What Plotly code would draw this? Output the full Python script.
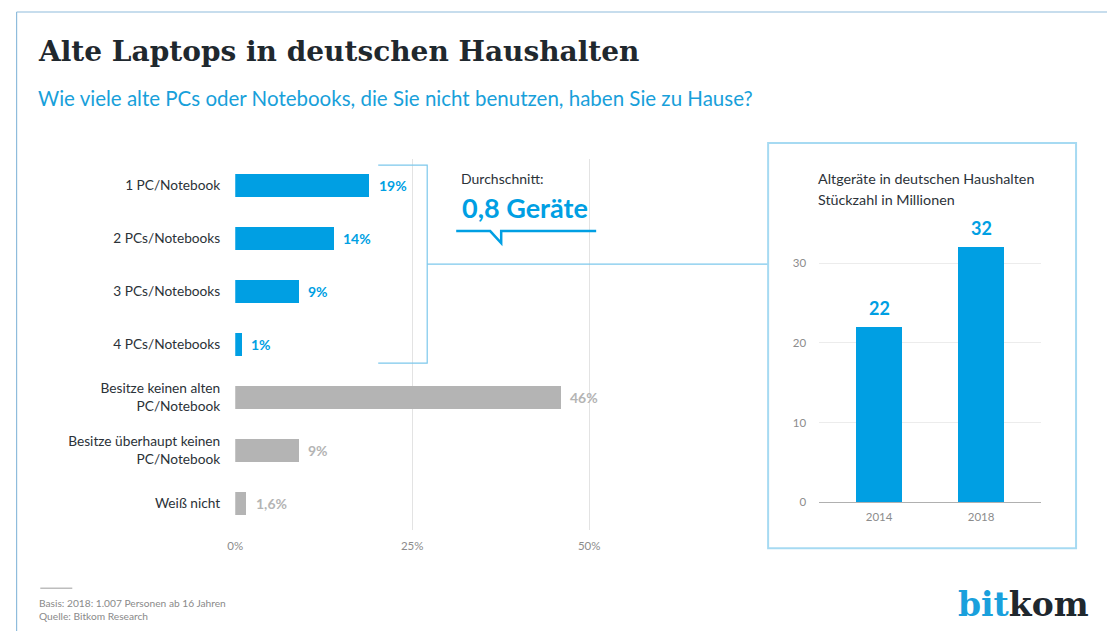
import plotly.graph_objects as go

# ---- data ----
categories = ["1 PC/Notebook", "2 PCs/Notebooks", "3 PCs/Notebooks", "4 PCs/Notebooks",
              "Besitze keinen alten<br>PC/Notebook", "Besitze überhaupt keinen<br>PC/Notebook", "Weiß nicht"]
shares = [19, 14, 9, 1, 46, 9, 1.6]
share_labels = ["19%", "14%", "9%", "1%", "46%", "9%", "1,6%"]
share_groups = ["blue", "blue", "blue", "blue", "grey", "grey", "grey"]
x_ticks = [0, 25, 50]
x_tick_labels = ["0%", "25%", "50%"]

years = ["2014", "2018"]
devices_mio = [22, 32]
y2_ticks = [0, 10, 20, 30]

BLUE = "#009fe3"
GREY = "#b4b4b4"
DARK = "#2b3238"
TICK = "#8c8c8c"
LINE = "#7cc8ec"
FONT = "Lato"

# page placement compensation (screen px -> figure px)
W, H = 1107, 629
SX, CX = 0.993, 15.7
SY, CY = 0.99, 8.0
def fxp(x): return (x - CX) / SX
def fyp(y): return (y - CY) / SY
def px(x): return max(fxp(x), 0.6) / W
def py(y): return 1 - fyp(y) / H

fig = go.Figure()

bar_colors = [BLUE if g == "blue" else GREY for g in share_groups]
fig.add_trace(go.Bar(x=shares, y=categories, orientation="h", marker_color=bar_colors,
                     marker_line_width=0, width=0.44, xaxis="x", yaxis="y",
                     hoverinfo="skip"))
fig.add_trace(go.Bar(x=years, y=devices_mio, marker_color=BLUE, marker_line_width=0,
                     width=0.45, xaxis="x2", yaxis="y2", hoverinfo="skip"))

annotations = []
for c, v, lab, g in zip(categories, shares, share_labels, share_groups):
    annotations.append(dict(x=v, y=c, xref="x", yref="y", text=lab, showarrow=False,
                            xanchor="left", xshift=7,
                            font=dict(family=FONT, size=14, weight="bold",
                                      color=BLUE if g == "blue" else GREY)))
for i, v in enumerate(devices_mio):
    annotations.append(dict(x=i, y=v, xref="x2", yref="y2", text=str(v), showarrow=False,
                            yanchor="bottom", yshift=6,
                            font=dict(family=FONT, size=18, weight="bold", color=BLUE)))

def txt(x, y, text, size, color, weight="normal", family=FONT, xanchor="left"):
    annotations.append(dict(x=px(x), y=py(y), xref="paper", yref="paper", text=text,
                            showarrow=False, xanchor=xanchor, yanchor="middle",
                            font=dict(family=family, size=size, color=color, weight=weight)))

txt(36, 51, "Alte Laptops in deutschen Haushalten", 28, "#1f282e", "bold", "DejaVu Serif")
txt(36, 98, "Wie viele alte PCs oder Notebooks, die Sie nicht benutzen, haben Sie zu Hause?", 20.5, "#18a0da")
txt(459, 178, "Durchschnitt:", 14, DARK)
txt(460, 207, "0,8 Geräte", 27, BLUE, "bold")
txt(816, 178, "Altgeräte in deutschen Haushalten", 14.3, DARK)
txt(816, 199, "Stückzahl in Millionen", 14.3, DARK)
txt(37, 603, "Basis: 2018: 1.007 Personen ab 16 Jahren", 10.2, "#8a8a8a")
txt(37, 616, "Quelle: Bitkom Research", 10.2, "#8a8a8a")
txt(956, 604, "<span style='color:#1aa0dc'>bit</span>kom", 33, "#1f282e", "bold", "DejaVu Serif")

shapes = [
    # outer frame
    dict(type="line", xref="paper", yref="paper", x0=px(9), x1=1, y0=py(12), y1=py(12),
         line=dict(color="#8fbcdc", width=1.2)),
    dict(type="line", xref="paper", yref="paper", x0=px(9), x1=px(9), y0=py(12), y1=0,
         line=dict(color="#8fbcdc", width=1.2)),
    # bracket + connector
    dict(type="path", xref="paper", yref="paper",
         path=f"M{px(378)},{py(165)} L{px(427)},{py(165)} L{px(427)},{py(363)} L{px(378)},{py(363)}",
         line=dict(color=LINE, width=1.2)),
    dict(type="line", xref="paper", yref="paper", x0=px(427), x1=px(768), y0=py(264), y1=py(264),
         line=dict(color=LINE, width=1.2)),
    # speech underline
    dict(type="path", xref="paper", yref="paper",
         path=f"M{px(456)},{py(231)} L{px(490)},{py(231)} L{px(501)},{py(243)} L{px(501)},{py(231)} L{px(596)},{py(231)}",
         line=dict(color=BLUE, width=2.5)),
    # right box
    dict(type="rect", xref="paper", yref="paper", x0=px(768), x1=px(1076), y0=py(548), y1=py(143),
         line=dict(color="#a6daf2", width=2)),
    # footnote rule
    dict(type="line", xref="paper", yref="paper", x0=px(40), x1=px(72), y0=py(588), y1=py(588),
         line=dict(color="#bdbdbd", width=1.5)),
]

fig.update_layout(
    width=W, height=H, margin=dict(l=0, r=0, t=0, b=0),
    paper_bgcolor="white", plot_bgcolor="rgba(0,0,0,0)",
    showlegend=False, bargap=0, annotations=annotations, shapes=shapes,
    font=dict(family=FONT),
    xaxis=dict(domain=[px(235), px(235 + 55 * 7.08)], range=[0, 55], tickvals=x_ticks,
               ticktext=x_tick_labels, showgrid=True, gridcolor="#e3e3e3", gridwidth=1,
               zeroline=False, showline=False, ticks="", anchor="y",
               tickfont=dict(family=FONT, size=11.5, color=TICK), ticklabelstandoff=8),
    yaxis=dict(domain=[py(529.5), py(158.5)], range=[6.5, -0.5], type="category",
               categoryorder="array", categoryarray=categories, showgrid=False,
               zeroline=False, showline=False, ticks="", anchor="x",
               tickfont=dict(family=FONT, size=13.7, color=DARK), ticklabelstandoff=14),
    xaxis2=dict(domain=[px(819), px(1041)], range=[-0.588, 1.588], type="category",
                showgrid=False, zeroline=False, showline=False, ticks="", anchor="y2",
                tickfont=dict(family=FONT, size=11.5, color=TICK), ticklabelstandoff=6),
    yaxis2=dict(domain=[py(502), py(231)], range=[0, 34], tickvals=y2_ticks,
                showgrid=True, gridcolor="#ececec", zeroline=True, zerolinecolor="#b0b0b0",
                zerolinewidth=1.2, showline=False, ticks="", anchor="x2",
                tickfont=dict(family=FONT, size=11.5, color=TICK), ticklabelstandoff=12),
)

fig.write_html("out.html")
